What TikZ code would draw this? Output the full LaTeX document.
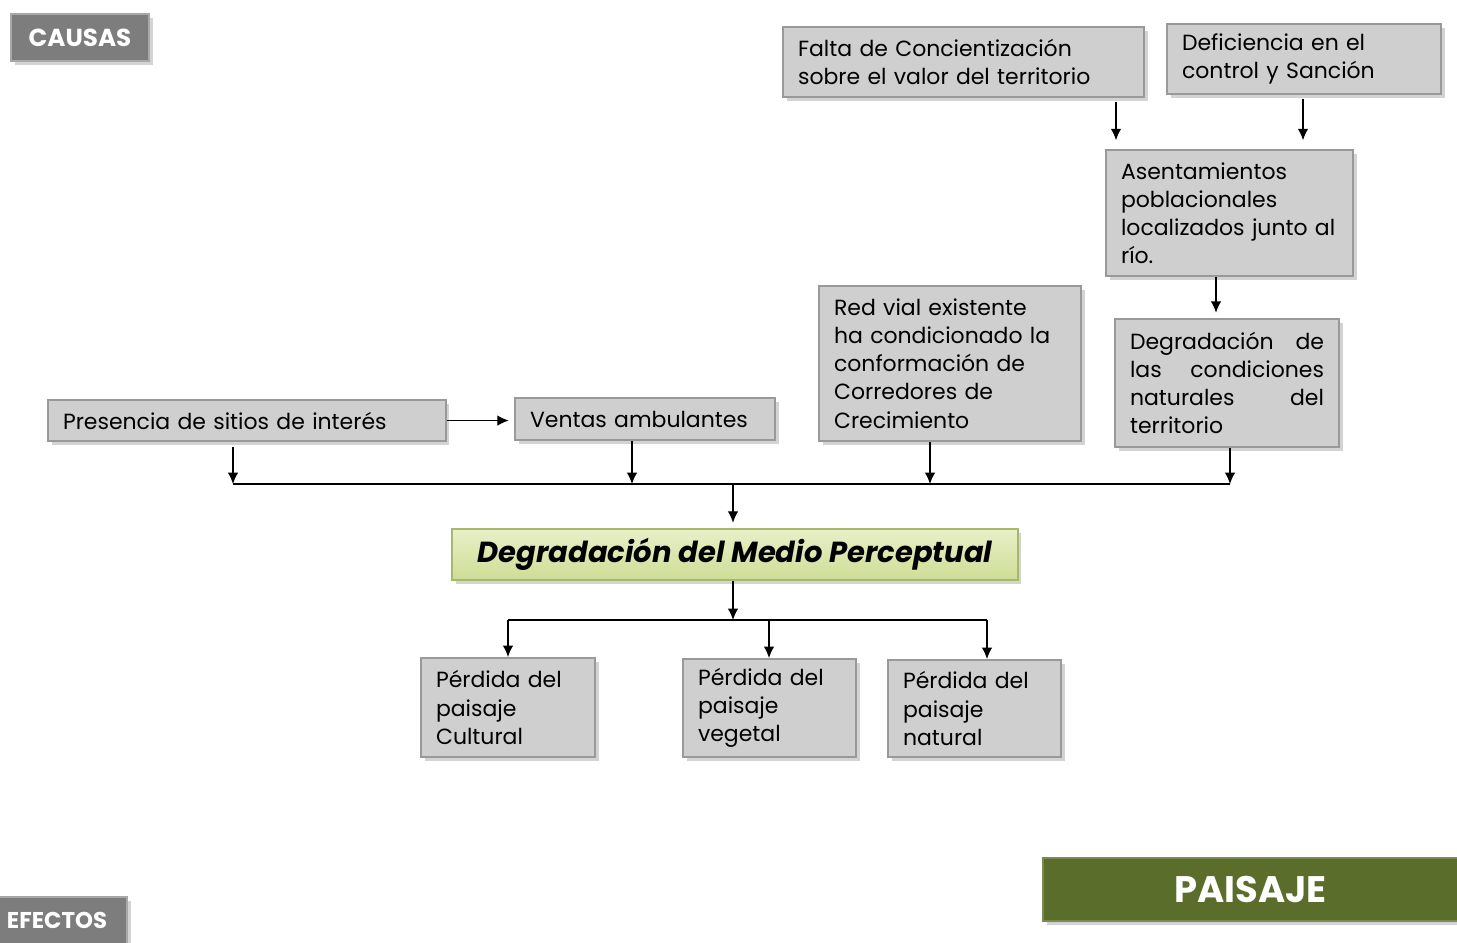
\documentclass[tikz,border=0pt]{standalone}
\usepackage{fontspec}
\setmainfont{Poppins}
\usepackage{tikz}
\usetikzlibrary{shadows, arrows.meta}
\definecolor{BoxGray}{HTML}{CFCFCF}
\definecolor{EdgeGray}{HTML}{999999}
\definecolor{TagGray}{HTML}{7D7D7D}
\definecolor{TagEdge}{HTML}{A8A8A8}
\definecolor{CoreTop}{HTML}{E8F0C8}
\definecolor{CoreBottom}{HTML}{CEDD95}
\definecolor{CoreEdge}{HTML}{A7B86A}
\definecolor{Olive}{HTML}{5A6D2B}
\tikzstyle{Card} = [rectangle,
                    anchor=north west,
                    align=left,
                    inner xsep=0.3cm,
                    inner ysep=0pt,
                    font=\fontsize{12.5}{16}\selectfont,
                    draw=EdgeGray,
                    line width=1.2pt,
                    fill=BoxGray,
                    drop shadow={shadow xshift=2pt, shadow yshift=-2pt, opacity=0.35}]
\tikzstyle{Tag} = [rectangle,
                   anchor=north west,
                   text centered,
                   font=\fontsize{14}{16}\selectfont\bfseries,
                   text=white,
                   draw=TagEdge,
                   line width=1.2pt,
                   fill=TagGray,
                   drop shadow={shadow xshift=2pt, shadow yshift=-2pt, opacity=0.35}]
\tikzstyle{Core} = [rectangle,
                    anchor=north west,
                    text centered,
                    font=\fontsize{16.5}{19}\selectfont\bfseries\itshape,
                    draw=CoreEdge,
                    line width=1.2pt,
                    top color=CoreTop,
                    bottom color=CoreBottom,
                    drop shadow={shadow xshift=2pt, shadow yshift=-2pt, opacity=0.35}]
\tikzstyle{Title} = [rectangle,
                     anchor=north west,
                     text centered,
                     font=\fontsize{21}{24}\selectfont\bfseries,
                     text=white,
                     draw=Olive!80!white,
                     line width=1.2pt,
                     fill=Olive,
                     drop shadow={shadow xshift=2pt, shadow yshift=-2pt, opacity=0.35}]
\tikzstyle{Line} = [line width=0.7pt]
\tikzstyle{Arr} = [line width=0.7pt, -{Latex[length=6.5pt, width=6pt]}]

\begin{document}
\begin{tikzpicture}[x=0.02cm, y=-0.02cm]
        \useasboundingbox (0,0) rectangle (1457,943);

        \node (CAUSAS) [Tag, minimum width=2.76cm, minimum height=0.94cm] at (10,13) {CAUSAS};
        \node (EFECTOS) [Tag, font=\fontsize{13}{15}\selectfont\bfseries, minimum width=2.80cm, minimum height=0.94cm] at (-14,896) {EFECTOS};
        \node (PAISAJE) [Title, minimum width=8.30cm, minimum height=1.26cm] at (1042,857) {PAISAJE};

        \node (Falta) [Card, text width=6.62cm, minimum height=1.40cm] at (782,26) {Falta de Concientización\\sobre el valor del territorio};
        \node (Deficiencia) [Card, text width=4.88cm, minimum height=1.40cm] at (1166,23) {Deficiencia en el\\control y Sanción};
        \node (Asentamientos) [Card, text width=4.34cm, minimum height=2.52cm] at (1105,149) {Asentamientos\\poblacionales\\localizados junto al\\río.};
        \node (RedVial) [Card, text width=4.64cm, minimum height=3.10cm] at (818,285) {Red vial existente\\ha condicionado la\\conformación de\\Corredores de\\Crecimiento};
        \node (Degradacion) [Card, text width=3.88cm, minimum height=2.56cm] at (1114,318) {Degradación\hfill de\\las\hfill condiciones\\naturales\hfill del\\territorio};
        \node (Presencia) [Card, text width=7.36cm, minimum height=0.82cm] at (47,399) {Presencia de sitios de interés};
        \node (Ventas) [Card, text width=4.60cm, minimum height=0.84cm] at (514,397) {Ventas ambulantes};

        \node (Medio) [Core, minimum width=11.32cm, minimum height=1.02cm] at (451,528) {Degradación\ del Medio Perceptual};

        \node (Cultural) [Card, text width=2.88cm, minimum height=1.98cm] at (420,657) {Pérdida del\\paisaje\\Cultural};
        \node (Vegetal) [Card, text width=2.86cm, minimum height=1.96cm] at (682,658) {Pérdida del\\paisaje\\vegetal};
        \node (Natural) [Card, text width=2.86cm, minimum height=1.94cm] at (887,659) {Pérdida del\\paisaje\\natural};

        \coordinate (T1) at (1116,0);
        \coordinate (T2) at (1303,0);
        \coordinate (T3) at (1216,0);
        \coordinate (B1) at (233,484);
        \coordinate (B2) at (632,484);
        \coordinate (B3) at (930,484);
        \coordinate (B4) at (1230,484);
        \coordinate (BC) at (733,484);
        \coordinate (E0) at (733,620);
        \coordinate (E1) at (508,620);
        \coordinate (E2) at (769,620);
        \coordinate (E3) at (987,620);

        \draw [Arr, shorten <=2pt, shorten >=5pt] (Falta.south -| T1) -- (Asentamientos.north -| T1);
        \draw [Arr, shorten <=2pt, shorten >=5pt] (Deficiencia.south -| T2) -- (Asentamientos.north -| T2);
        \draw [Arr, shorten >=3pt] (Asentamientos.south -| T3) -- (Degradacion.north -| T3);
        \draw [Arr, shorten >=3pt] (Presencia.east) -- (Presencia.east -| Ventas.west);

        \draw [Line] (B1) -- (B4);
        \draw [Arr, shorten <=3pt] (Presencia.south -| B1) -- (B1);
        \draw [Arr] (Ventas.south -| B2) -- (B2);
        \draw [Arr] (RedVial.south -| B3) -- (B3);
        \draw [Arr] (Degradacion.south -| B4) -- (B4);
        \draw [Arr, shorten >=3pt] (BC) -- (BC |- Medio.north);

        \draw [Arr] (Medio.south -| E0) -- (E0);
        \draw [Line] (E1) -- (E3);
        \draw [Arr] (E1) -- (E1 |- Cultural.north);
        \draw [Arr] (E2) -- (E2 |- Vegetal.north);
        \draw [Arr] (E3) -- (E3 |- Natural.north);
\end{tikzpicture}
\end{document}
